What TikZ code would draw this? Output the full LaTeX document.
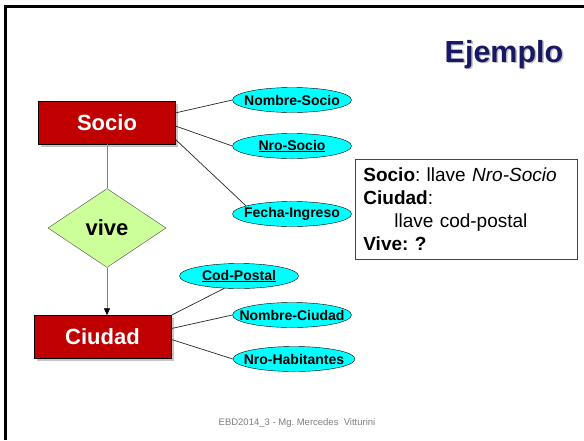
\documentclass[tikz,border=0pt]{standalone}
\usepackage{fontspec}
\setmainfont{Liberation Sans}
\frenchspacing
\usetikzlibrary{arrows.meta, positioning, shapes.geometric, shadows}

\definecolor{entityred}{RGB}{192,0,0}
\definecolor{attrcyan}{RGB}{0,255,255}
\definecolor{relgreen}{RGB}{204,255,153}
\definecolor{titlenavy}{RGB}{24,24,100}

\begin{document}
\begin{tikzpicture}[
    x=1pt, y=-1pt,
    >=Triangle,
    entity/.style={rectangle, draw=black, fill=entityred, text=white, minimum width=137pt, minimum height=43pt,
        font=\fontsize{22pt}{26pt}\selectfont\bfseries,
        drop shadow={shadow xshift=2.5pt, shadow yshift=-2.5pt, fill=black!45}},
    attr/.style={ellipse, draw=black, fill=attrcyan, minimum width=119pt, minimum height=25pt, inner sep=0pt,
        font=\fontsize{14pt}{16pt}\selectfont\bfseries},
    rel/.style={diamond, draw=black!70, fill=relgreen, minimum width=118pt, minimum height=79pt, inner sep=0pt,
        font=\fontsize{22pt}{26pt}\selectfont\bfseries},
    attrlink/.style={draw=black!85, line width=0.7pt},
    rellink/.style={draw=black!50, line width=0.8pt},
    notebox/.style={rectangle, draw=red!90!black, line width=0.8pt, fill=white, text width=206pt, minimum height=100pt,
        inner xsep=8pt, align=left, font=\fontsize{19pt}{23pt}\selectfont},
    titletext/.style={font=\fontsize{30.5pt}{34pt}\selectfont\bfseries}
]

% Page and frame
\useasboundingbox[fill=white] (0,0) rectangle (584,440);
\draw[line width=3pt] (5.5,440) -- (5.5,6.5) -- (584,6.5);

% Title with shadow
\node[titletext, text=black!25, anchor=base] (titleshadow) at (505.5,63.5) {Ejemplo};
\node[titletext, text=titlenavy, anchor=base] (title) at (504,62) {Ejemplo};

% Entities and relation
\node[entity] (socio) at (107,122.5) {Socio};
\node[rel] (vive) at (107,228) {vive};
\node[entity] (ciudad) at (102.5,337) {Ciudad};

% Attributes of Socio
\node[attr] (nombresocio) at (292,100) {\makebox[0pt]{Nombre-Socio}};
\node[attr] (nrosocio) at (292,146) {\makebox[0pt]{\underline{Nro-Socio}}};
\node[attr] (fechaingreso) at (292,214) {\makebox[0pt]{Fecha-Ingreso}};

% Attributes of Ciudad
\node[attr] (codpostal) at (239,276) {\makebox[0pt]{\underline{Cod-Postal}}};
\node[attr] (nombreciudad) at (292,315) {\makebox[0pt]{Nombre-Ciudad}};
\node[attr, minimum width=122pt] (nrohabitantes) at (294,359) {\makebox[0pt]{Nro-Habitantes}};

% Draw links
\draw[attrlink] (socio.8) -- (nombresocio.west);
\draw[attrlink] (socio.-3) -- (nrosocio.west);
\draw[attrlink] (socio.-14) -- (fechaingreso.170);
\draw[attrlink] (ciudad.north east) -- (codpostal.220);
\draw[attrlink] (ciudad.7) -- (nombreciudad.west);
\draw[attrlink] (ciudad.-2) -- (nrohabitantes.west);

\draw[rellink] (socio.south) -- (vive.north);
\draw[rellink, -{Triangle[black, length=7pt, width=6pt]}] (vive.south) -- (vive.south |- ciudad.north);

% Keys
\node[notebox, anchor=north west] (notes) at (355,159) {%
    \textbf{Socio}: llave \textit{Nro-Socio}\\
    \textbf{Ciudad}:\\
    \hspace*{31pt}llave cod-postal\\
    \textbf{Vive: ?}};

% Footer
\node[font=\fontsize{9.5pt}{11pt}\selectfont, text=black!50] (footer) at (297,423) {EBD2014\_3 - Mg. Mercedes\ \ Vitturini};

\end{tikzpicture}
\end{document}
